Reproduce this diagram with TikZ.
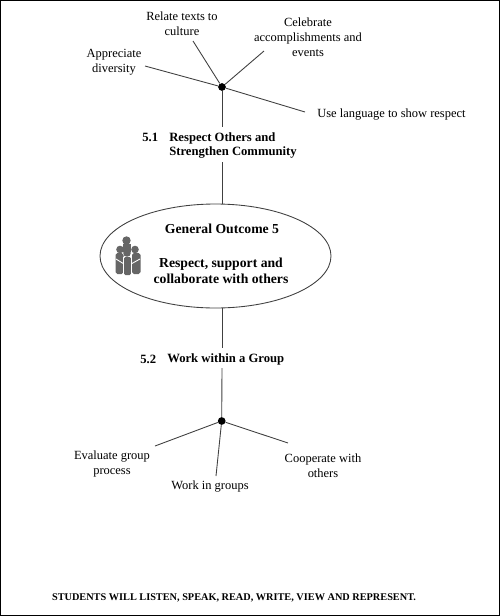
\documentclass[tikz,border=0pt]{standalone}
\usepackage{fontspec}
\setmainfont{Liberation Serif}
\usetikzlibrary{shapes.geometric}
\tikzset{
    label/.style={font=\fontsize{7.1pt}{8.5pt}\selectfont, align=center, inner sep=0pt},
    heading/.style={font=\fontsize{7.2pt}{8pt}\selectfont\bfseries, align=left, inner sep=0pt},
    title/.style={font=\fontsize{7.8pt}{9.1pt}\selectfont\bfseries, align=center, inner sep=0pt},
    line/.style={draw=black!75, line width=0.5pt},
    hub/.style={circle, fill=black, inner sep=0pt, minimum size=4.4pt},
    person/.style={fill=black!60, draw=none}
}
\begin{document}
\begin{tikzpicture}[x=0.02cm,y=-0.02cm]
    \useasboundingbox (0,0) rectangle (500,616);
    \draw[line width=1.1pt] (0.5,0.5) rectangle (499.5,615.5);

    % Upper branch
    \node[hub] (hubA) at (222,87) {};
    \node[label] (relate) at (182,23.5) {Relate texts to\\culture};
    \node[label] (celebrate) at (308,37) {Celebrate\\accomplishments and\\events};
    \node[label] (diversity) at (114,62.5) {Appreciate\\diversity};
    \node[label, anchor=west] (language) at (317,115) {Use language to show respect};
    \node[heading, anchor=north west] (numA) at (142,132.5) {5.1};
    \node[heading, anchor=north west] (headA) at (169,132.5) {Respect Others and\\Strengthen Community};

    \coordinate (relateEnd) at (193,41);
    \coordinate (celebrateEnd) at (264,51);
    \coordinate (diversityEnd) at (145,66);
    \coordinate (languageEnd) at (305,112);
    \coordinate (headAtop) at (222,127);
    \coordinate (headAbot) at (222,162);

    \draw[line] (hubA) -- (relateEnd);
    \draw[line] (hubA) -- (celebrateEnd);
    \draw[line] (diversityEnd) -- (hubA) -- (languageEnd);
    \draw[line] (hubA) -- (headAtop);

    % Centre ellipse
    \node[ellipse, line, minimum width=0.02cm*231, minimum height=0.02cm*104, inner sep=0pt] (outcome) at (215.5,256) {};
    \node[title] (outA) at (222,229) {General Outcome 5};
    \node[title] (outB) at (221,271) {Respect, support and\\collaborate with others};

    % Icon
    \fill[person] (126.5,240.5) circle (4.2);
    \fill[person] (120,249.5) circle (3.8);
    \fill[person] (135,249.5) circle (3.8);
    \fill[person, rounded corners=1pt] (115.5,253) rectangle (123.5,274);
    \fill[person, rounded corners=1pt] (132,253) rectangle (140.5,274);
    \fill[person] (123,244) rectangle (131,252);
    \draw[white, line width=0.5pt] (116,259) -- (124,264) (140,259) -- (131,264);
    \fill[person] (127,253) circle (3.8);
    \fill[person, rounded corners=1pt] (123.5,257) rectangle (131.5,275);
    \draw[white, line width=0.4pt] (123.2,257) -- (123.2,275) (131.8,257) -- (131.8,275);

    % Lower branch
    \node[hub] (hubB) at (221.7,421) {};
    \node[heading, anchor=west] (numB) at (140,359) {5.2};
    \node[heading, anchor=west] (headB) at (167,359) {Work within a Group};
    \node[label] (evaluate) at (112,464) {Evaluate group\\process};
    \node[label] (groups) at (210,487) {Work in groups};
    \node[label] (cooperate) at (323,465.5) {Cooperate with\\others};

    \coordinate (headBtop) at (222,348);
    \coordinate (headBbot) at (222,368);
    \coordinate (evaluateEnd) at (155,446);
    \coordinate (groupsEnd) at (216,476);
    \coordinate (cooperateEnd) at (288,443);

    \draw[line] (headAbot) -- (headAbot |- outcome.north);
    \draw[line] (headBtop |- outcome.south) -- (headBtop);
    \draw[line] (headBbot) -- (hubB);
    \draw[line] (hubB) -- (evaluateEnd);
    \draw[line] (hubB) -- (groupsEnd);
    \draw[line] (hubB) -- (cooperateEnd);

    % Footer
    \node[font=\fontsize{5.85pt}{6pt}\selectfont\bfseries, inner sep=0pt] (footer) at (234,598) {STUDENTS WILL LISTEN, SPEAK, READ, WRITE, VIEW AND REPRESENT.};
\end{tikzpicture}
\end{document}
